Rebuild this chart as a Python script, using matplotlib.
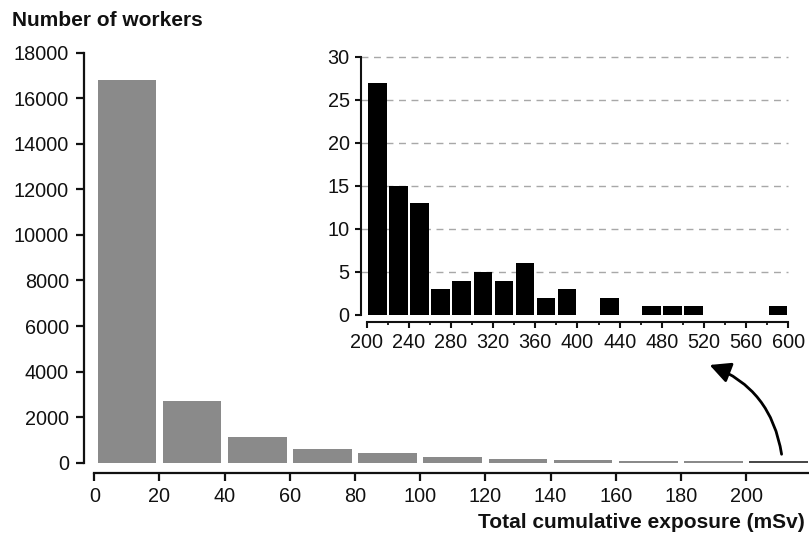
import matplotlib
matplotlib.use("Agg")
import matplotlib.pyplot as plt
import numpy as np
from matplotlib.patches import FancyArrowPatch

plt.rcParams['font.family'] = ['Liberation Sans', 'DejaVu Sans']

# Main histogram: workers per 20 mSv band (last band = 200 mSv and above)
main_bin_starts = [0, 20, 40, 60, 80, 100, 120, 140, 160, 180, 200]
main_counts = [16800, 2700, 1120, 590, 420, 230, 170, 115, 80, 60, 88]
main_xticks = [0, 20, 40, 60, 80, 100, 120, 140, 160, 180, 200]
main_yticks = [0, 2000, 4000, 6000, 8000, 10000, 12000, 14000, 16000, 18000]

# Inset histogram: workers above 200 mSv, 20 mSv bands
inset_bin_starts = list(range(200, 600, 20))
inset_counts = [27, 15, 13, 3, 4, 5, 4, 6, 2, 3, 0, 2, 0, 1, 1, 1, 0, 0, 0, 1]
inset_xticks = [200, 240, 280, 320, 360, 400, 440, 480, 520, 560, 600]
inset_minor = [220, 260, 300, 340, 380, 420, 460, 500, 540, 580]
inset_yticks = [0, 5, 10, 15, 20, 25, 30]

W, H, DPI = 809, 540, 100
fig = plt.figure(figsize=(W / DPI, H / DPI), dpi=DPI)
FS_TICK = 14.3
FS_LABEL = 15.0
INK = '#111111'

def px(v):
    return v * 72.0 / DPI

# ---- main axes ----
ax = fig.add_axes([94.3 / W, (H - 462.7) / H, (W - 94.3) / W, (462.7 - 52.7) / H])
colors = ['#8a8a8a'] * (len(main_counts) - 1) + ['#4a4a4a']
ax.bar(np.array(main_bin_starts) + 10, main_counts, width=18, color=colors,
       edgecolor='none', zorder=2)
ax.set_xlim(0, 219.3)
ax.set_ylim(0, 18000)
ax.set_xticks(main_xticks)
ax.set_xticklabels([str(t) for t in main_xticks])
ax.set_yticks(main_yticks)
ax.set_yticklabels([str(t) for t in main_yticks])
for s in ['top', 'right']:
    ax.spines[s].set_visible(False)
ax.spines['left'].set_position(('outward', px(10.3)))
ax.spines['bottom'].set_position(('outward', px(10.6)))
ax.spines['left'].set_bounds(0, 18000)
ax.spines['bottom'].set_bounds(0, 219.3)
for s in ['left', 'bottom']:
    ax.spines[s].set_linewidth(1.6)
    ax.spines[s].set_color(INK)
ax.tick_params(axis='both', direction='out', length=px(8), width=1.6,
               color=INK, labelcolor=INK, labelsize=FS_TICK)
ax.tick_params(axis='y', pad=px(7))
ax.tick_params(axis='x', pad=px(6))

fig.text(12 / W, 1 - 20 / H, 'Number of workers', fontsize=FS_LABEL,
         fontweight='bold', ha='left', va='center', color=INK)
fig.text(805 / W, 1 - 523 / H, 'Total cumulative exposure (mSv)', fontsize=FS_LABEL,
         fontweight='bold', ha='right', va='center', color=INK)

# ---- inset axes ----
ins = fig.add_axes([366.7 / W, (H - 315) / H, (788.3 - 366.7) / W, (315 - 56.7) / H])
ins.set_xlim(200, 600)
ins.set_ylim(0, 30)
ins.hlines(inset_yticks[1:], 194.3, 600, colors='#a8a8a8', linestyles=(0, (5, 4)),
           linewidth=1.0, zorder=1, clip_on=False)
ins.bar(np.array(inset_bin_starts) + 10.2, inset_counts, width=17.6, color='black',
        edgecolor='none', zorder=3)
ins.set_xticks(inset_xticks)
ins.set_xticklabels([str(t) for t in inset_xticks])
ins.set_xticks(inset_minor, minor=True)
ins.set_yticks(inset_yticks)
ins.set_yticklabels([str(t) for t in inset_yticks])
for s in ['top', 'right']:
    ins.spines[s].set_visible(False)
ins.spines['left'].set_position(('outward', px(6)))
ins.spines['bottom'].set_position(('outward', px(6.7)))
ins.spines['left'].set_bounds(0, 30)
ins.spines['bottom'].set_bounds(200, 600)
for s in ['left', 'bottom']:
    ins.spines[s].set_linewidth(1.5)
    ins.spines[s].set_color(INK)
ins.tick_params(axis='both', which='major', direction='out', length=px(6),
                width=1.5, color=INK, labelcolor=INK, labelsize=FS_TICK)
ins.tick_params(axis='x', which='minor', direction='out', length=px(2.5),
                width=1.3, color=INK)
ins.tick_params(axis='y', pad=px(5))
ins.tick_params(axis='x', pad=px(5))

# ---- curved arrow from the 200+ band up to the inset ----
arrow = FancyArrowPatch((782 / W, 1 - 457 / H), (707 / W, 1 - 364 / H),
                        transform=fig.transFigure,
                        connectionstyle='arc3,rad=0.3',
                        arrowstyle='-|>,head_length=0.9,head_width=0.45',
                        mutation_scale=14, linewidth=2.0, color='black')
fig.add_artist(arrow)

fig.savefig('out.png', dpi=DPI)
